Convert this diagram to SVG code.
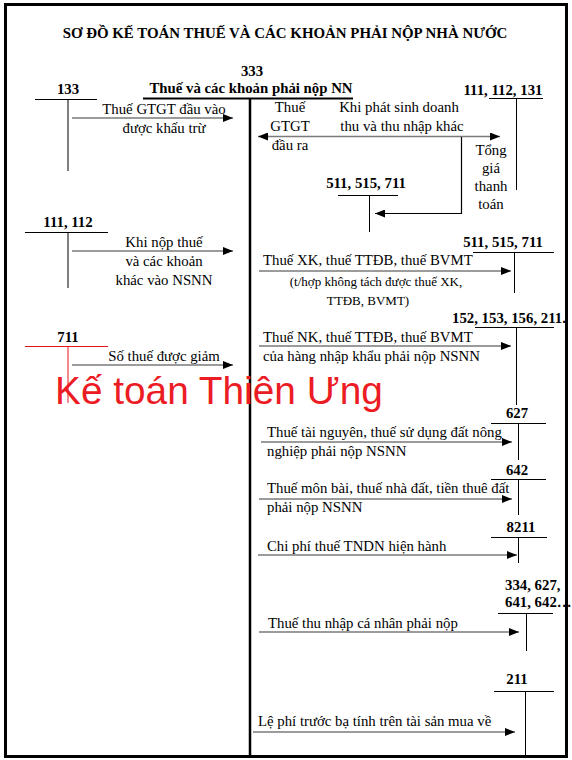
<svg xmlns="http://www.w3.org/2000/svg" width="572" height="760" viewBox="0 0 572 760">
<style>
text{font-family:"Liberation Serif","Times New Roman",serif;fill:#000;font-size:14.8px}
.b{font-weight:bold}
.c{text-anchor:middle}
.s{font-size:13px}
.h{font-size:14.9px}
.t{stroke:#000;stroke-width:1;fill:none}
.r{stroke:#e8141c;stroke-width:1;fill:none}
.a{stroke:#7a7a7a;stroke-width:1.6;fill:none}
.k{stroke:#000;stroke-width:1.2;fill:none}
.wm{font-family:"Liberation Sans",Arial,sans-serif;font-size:38.8px;fill:#ec1c24}
</style>
<defs>
<marker id="ah" markerUnits="userSpaceOnUse" markerWidth="10" markerHeight="8" refX="10" refY="4" orient="auto-start-reverse">
<path d="M0,0 L10,4 L0,8 z" fill="#000"/>
</marker>
</defs>
<rect x="0" y="0" width="572" height="760" fill="#fff"/>
<rect x="5.5" y="4.5" width="561" height="752" fill="none" stroke="#000" stroke-width="3"/>

<g id="title">
<text class="b c h" x="285" y="38">SƠ ĐỒ KẾ TOÁN THUẾ VÀ CÁC KHOẢN PHẢI NỘP NHÀ NƯỚC</text>
</g>

<g id="acc333">
<text class="b c" x="252" y="76">333</text>
<text class="b c" x="251" y="93">Thuế và các khoản phải nộp NN</text>
<line x1="143" y1="98.5" x2="353" y2="98.5" stroke="#000" stroke-width="2"/>
<line x1="250" y1="98" x2="250" y2="757" stroke="#000" stroke-width="2.5"/>
</g>

<g id="acc133">
<text class="b c" x="68" y="94">133</text>
<path class="t" d="M35,99.5 H97 M68,99.5 V171"/>
</g>

<g id="acc111-112-131">
<text class="b c" x="503" y="95">111, 112, 131</text>
<path class="t" d="M489,98.5 H543 M516.5,98.5 V190"/>
</g>

<g id="acc511-a">
<text class="b c" x="366" y="188">511, 515, 711</text>
<path class="t" d="M338,195.5 H398 M369.5,195.5 V232"/>
</g>

<g id="acc111-112">
<text class="b c" x="68" y="227">111, 112</text>
<path class="t" d="M25,232.5 H108 M68,232.5 V288"/>
</g>

<g id="acc511-b">
<text class="b c" x="503" y="247">511, 515, 711</text>
<path class="t" d="M473,252.5 H554 M514.5,252.5 V293"/>
</g>

<g id="acc152">
<text class="b" x="452" y="323">152, 153, 156, 211.</text>
<path class="t" d="M475,327.5 H554 M516.5,327.5 V405"/>
</g>

<g id="acc711">
<text class="b c" x="68" y="342">711</text>
<path class="r" d="M25,346.5 H108 M68,346.5 V403"/>
</g>

<g id="acc627">
<text class="b c" x="517" y="418">627</text>
<path class="t" d="M491,423.5 H546 M518.5,423.5 V460"/>
</g>

<g id="acc642">
<text class="b c" x="517" y="475">642</text>
<path class="t" d="M491,479.5 H546 M518.5,479.5 V515"/>
</g>

<g id="acc8211">
<text class="b c" x="521" y="532">8211</text>
<path class="t" d="M491,537.5 H547 M518.5,537.5 V563"/>
</g>

<g id="acc334">
<text class="b" x="505" y="590">334, 627,</text>
<text class="b" x="505" y="607">641, 642…</text>
<path class="t" d="M498,613.5 H553 M526.5,613.5 V651"/>
</g>

<g id="acc211">
<text class="b c" x="517" y="684">211</text>
<path class="t" d="M494,691.5 H554 M525.5,691.5 V757"/>
</g>

<g id="connectors">
<line class="a" x1="72" y1="118" x2="233" y2="118" marker-end="url(#ah)"/>
<text class="c" x="164" y="114">Thuế GTGT đầu vào</text>
<text class="c" x="164" y="133">được khấu trừ</text>

<line class="a" x1="258" y1="136.5" x2="500" y2="136.5" marker-start="url(#ah)" marker-end="url(#ah)"/>
<text class="c" x="290" y="112">Thuế</text>
<text class="c" x="290" y="131">GTGT</text>
<text class="c" x="290" y="150">đầu ra</text>
<text class="c" x="399" y="112">Khi phát sinh doanh</text>
<text class="c" x="402" y="131">thu và thu nhập khác</text>
<text class="c" x="491" y="155">Tổng</text>
<text class="c" x="491" y="173">giá</text>
<text class="c" x="491" y="191">thanh</text>
<text class="c" x="491" y="209">toán</text>
<path class="k" d="M461.5,137 V213.5 H375" marker-end="url(#ah)"/>

<line class="a" x1="72" y1="251" x2="233" y2="251" marker-end="url(#ah)"/>
<text class="c" x="164" y="247">Khi nộp thuế</text>
<text class="c" x="164" y="266">và các khoản</text>
<text class="c" x="164" y="285">khác vào NSNN</text>

<line class="a" x1="72" y1="365" x2="233" y2="365" marker-end="url(#ah)"/>
<text class="c" x="164" y="361">Số thuế được giảm</text>

<line class="a" x1="259" y1="271" x2="511" y2="271" marker-end="url(#ah)"/>
<text x="263" y="265">Thuế XK, thuế TTĐB, thuế BVMT</text>
<text class="c s" x="376" y="286">(t/hợp không tách được thuế XK,</text>
<text class="c s" x="368" y="305">TTĐB, BVMT)</text>

<line class="a" x1="259" y1="346" x2="511" y2="346" marker-end="url(#ah)"/>
<text x="263" y="342">Thuế NK, thuế TTĐB, thuế BVMT</text>
<text x="263" y="361">của hàng nhập khẩu phải nộp NSNN</text>

<line class="a" x1="261" y1="442" x2="512" y2="442" marker-end="url(#ah)"/>
<text x="267" y="437">Thuế tài nguyên, thuế sử dụng đất nông</text>
<text x="267" y="456">nghiệp phải nộp NSNN</text>

<line class="a" x1="259" y1="499" x2="512" y2="499" marker-end="url(#ah)"/>
<text x="267" y="493">Thuế môn bài, thuế nhà đất, tiền thuê đất</text>
<text x="267" y="512">phải nộp NSNN</text>

<line class="a" x1="258" y1="555" x2="517" y2="555" marker-end="url(#ah)"/>
<text x="267" y="551">Chi phí thuế TNDN hiện hành</text>

<line class="a" x1="259" y1="632" x2="519" y2="632" marker-end="url(#ah)"/>
<text x="268" y="628">Thuế thu nhập cá nhân phải nộp</text>

<line class="a" x1="253" y1="732" x2="515" y2="732" marker-end="url(#ah)"/>
<text x="258" y="726">Lệ phí trước bạ tính trên tài sản mua về</text>
</g>

<text class="wm" x="55" y="404">Kế toán Thiên Ưng</text>
</svg>
